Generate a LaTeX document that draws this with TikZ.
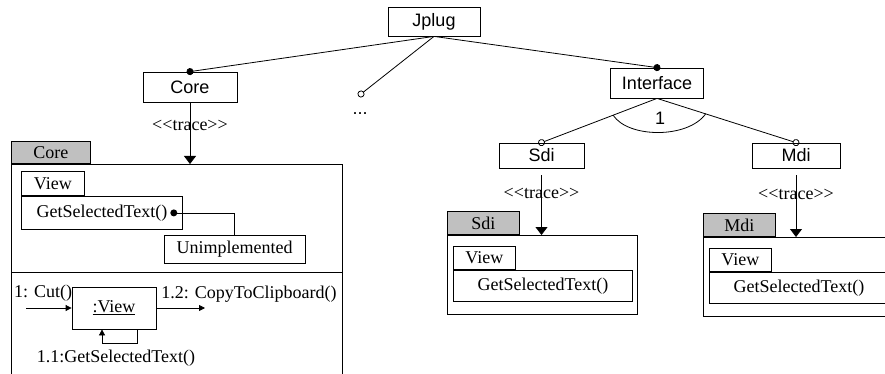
\documentclass[tikz,border=0pt]{standalone}
\usepackage{fontspec}
\setmainfont{Liberation Serif}
\setsansfont{Liberation Sans}
\usepackage{tikz}
\usetikzlibrary{arrows.meta}

\definecolor{tabgray}{RGB}{192,192,192}

\tikzset{
  feature/.style={draw, font=\sffamily\fontsize{18}{21}\selectfont, inner sep=0pt},
  uml/.style={draw, font=\fontsize{18}{21}\selectfont, inner sep=0pt},
  txt/.style={font=\fontsize{18}{21}\selectfont, inner sep=0pt},
  tabbox/.style={uml, fill=tabgray, anchor=south west},
  mand/.style={-{Circle[length=7pt]}, shorten >=-3.5pt},
  opt/.style={-{Circle[open,length=7pt]}, shorten >=-3.5pt},
  trace/.style={-{Triangle[length=8pt,width=12pt]}},
  msg/.style={-{Triangle[length=6pt,width=6pt]}},
}

\begin{document}
\begin{tikzpicture}[x=1pt, y=-1pt, line width=0.8pt]
  \useasboundingbox (0,0) rectangle (885,374);
  \clip (0,0) rectangle (885,374);

  % feature tree
  \node[feature, minimum width=92pt, minimum height=29pt] (jplug) at (434,21.5) {Jplug};
  \node[feature, minimum width=94pt, minimum height=30pt] (core) at (190,87) {Core};
  \node[feature, minimum width=93pt, minimum height=30pt] (interface) at (657,83) {Interface};
  \node[feature, minimum width=85pt, minimum height=25pt] (sdi) at (541.5,155.5) {Sdi};
  \node[feature, minimum width=88pt, minimum height=25pt] (mdi) at (796,155.5) {Mdi};
  \coordinate (more) at (361,94);
  \node[feature, draw=none] (etc) at (360,114) {...};

  \draw[mand] (jplug.south) -- (core.north);
  \draw[opt] (jplug.south) -- (more);
  \draw[mand] (jplug.south) -- (interface.north);
  \draw[opt] (interface.south) -- (sdi.north);
  \draw[opt] (interface.south) -- (mdi.north);

  % alternative group
  \path (interface.south) -- (sdi.north) coordinate[pos=0.38] (altL);
  \path (interface.south) -- (mdi.north) coordinate[pos=0.35] (altR);
  \draw (altL) .. controls +(15,23) and +(-18,25) .. (altR);
  \node[feature, draw=none] (card) at (660,118) {1};

  % Core package
  \node[uml, minimum width=331pt, minimum height=215pt, anchor=north west] (corePkg) at (11,164) {};
  \node[tabbox, minimum width=79pt, minimum height=22pt] (coreTab) at (corePkg.north west) {Core};
  \node[uml, minimum width=161pt, minimum height=33pt, anchor=north west] (coreGet) at (21,196) {GetSelectedText()};
  \node[tabbox, fill=white, minimum width=63pt, minimum height=24pt] (coreView) at (coreGet.north west) {View};
  \node[uml, minimum width=141pt, minimum height=28pt] (unimpl) at (234.5,249) {Unimplemented};
  \coordinate (hook) at ([xshift=-9pt]coreGet.east);
  \draw (hook) -| (unimpl.north);
  \fill (hook) circle[radius=3.5pt];
  \draw (corePkg.west |- 0,272) -- (corePkg.east |- 0,272);

  \node[uml, minimum width=84pt, minimum height=42pt] (viewObj) at (114,308) {\underline{:View}};
  \coordinate (cutIn) at (26,308);
  \coordinate (copyOut) at (205,308);
  \draw[msg] (cutIn) -- (viewObj.west);
  \draw[msg] (viewObj.east) -- (copyOut);
  \draw[msg] ([xshift=23pt]viewObj.south) -- ++(0,14) -| ([xshift=-12pt]viewObj.south);
  \node[txt] (cutLbl) at (43,293) {1: Cut()};
  \node[txt] (copyLbl) at (249,294) {1.2: CopyToClipboard()};
  \node[txt] (getLbl) at (116,358) {1.1:GetSelectedText()};

  \draw[trace] (core.south) -- node[pos=0.38, txt] {<{}<trace>{}>} (core.south |- corePkg.north);

  % Sdi and Mdi packages
  \foreach \Id/\Name/\X/\Y/\W in {sdi/Sdi/447/235/190, mdi/Mdi/703/237/260}{
    \node[uml, minimum width=\W pt, minimum height=79pt, anchor=north west] (\Id Pkg) at (\X,\Y) {};
    \node[tabbox, minimum width=72pt, minimum height=23pt] (\Id Tab) at (\Id Pkg.north west) {\Name};
    \node[uml, minimum width=179pt, minimum height=31pt, anchor=north west] (\Id Get) at (\X+6,\Y+35) {GetSelectedText()};
    \node[tabbox, fill=white, minimum width=62pt, minimum height=23pt] (\Id View) at (\Id Get.north west) {View};
    \draw[trace, shorten <=7pt] (\Id.south) -- node[pos=0.38, txt] {<{}<trace>{}>} (\Id.south |- \Id Pkg.north);
  };

\end{tikzpicture}
\end{document}
